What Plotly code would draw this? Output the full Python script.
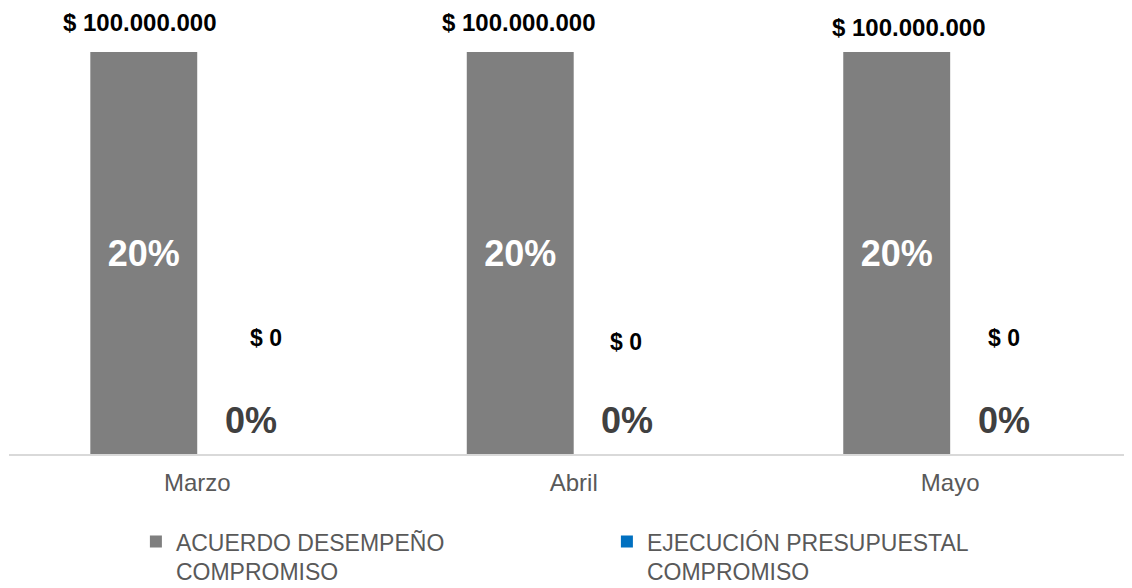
import plotly.graph_objects as go

categories = ["Marzo", "Abril", "Mayo"]
acuerdo_values = [100000000, 100000000, 100000000]
ejecucion_values = [0, 0, 0]
acuerdo_pct = [20, 20, 20]
ejecucion_pct = [0, 0, 0]
series_names = ["ACUERDO DESEMPEÑO<br>COMPROMISO", "EJECUCIÓN PRESUPUESTAL<br>COMPROMISO"]

GRAY = "#7f7f7f"
BLUE = "#0070c0"
FONT = "Arial, Liberation Sans, sans-serif"

# label placement tweaks (pixels), as in the original chart
top_label_dx = [-4, -2, 12]
top_label_dy = [30, 30, 25]
zero_label_dx = [15, -1, 0]
zero_label_dy = [116, 112, 116]

def money(v):
    return "$ " + f"{v:,.0f}".replace(",", ".")

BAR_W = 0.284

fig = go.Figure()
fig.add_trace(go.Bar(
    x=categories, y=acuerdo_values, name=series_names[0],
    marker=dict(color=GRAY, line=dict(width=0)),
    text=[f"{p}%" for p in acuerdo_pct], textposition="inside",
    insidetextanchor="middle", textangle=0,
    textfont=dict(family=FONT, size=36, color="white", weight="bold"),
    hoverinfo="skip",
))
fig.add_trace(go.Bar(
    x=categories, y=ejecucion_values, name=series_names[1],
    marker=dict(color=BLUE, line=dict(width=0)),
    hoverinfo="skip",
))

ann = []
for i, c in enumerate(categories):
    ann.append(dict(x=i - BAR_W / 2, y=acuerdo_values[i], xref="x", yref="y",
                    text=money(acuerdo_values[i]), showarrow=False,
                    yshift=top_label_dy[i], xshift=top_label_dx[i],
                    font=dict(family=FONT, size=24, color="black", weight="bold")))
    ann.append(dict(x=i + BAR_W / 2, y=ejecucion_values[i], xref="x", yref="y",
                    text=money(ejecucion_values[i]), showarrow=False,
                    yshift=zero_label_dy[i], xshift=zero_label_dx[i],
                    font=dict(family=FONT, size=23, color="black", weight="bold")))
    ann.append(dict(x=i + BAR_W / 2, y=ejecucion_values[i], xref="x", yref="y",
                    text=f"{ejecucion_pct[i]}%", showarrow=False,
                    yshift=34,
                    font=dict(family=FONT, size=36, color="#404040", weight="bold")))

fig.update_layout(
    width=1124, height=580,
    margin=dict(l=1, r=0, t=2, b=134, autoexpand=False),
    paper_bgcolor="white", plot_bgcolor="white",
    barmode="group", bargap=1 - 2 * BAR_W, bargroupgap=0,
    font=dict(family=FONT),
    annotations=ann,
    showlegend=True,
    legend=dict(orientation="h", x=0.113, xanchor="left", y=-0.149, yanchor="top",
                font=dict(family=FONT, size=23, color="#595959"),
                valign="top", entrywidth=426, entrywidthmode="pixels",
                itemclick=False, itemdoubleclick=False),
    xaxis=dict(type="category", range=[-0.5, 2.483], showgrid=False,
               showline=True, linecolor="#d9d9d9", linewidth=2,
               ticks="", ticklabelstandoff=6,
               tickfont=dict(family=FONT, size=24, color="#595959"),
               fixedrange=True),
    yaxis=dict(range=[0, 110450000], visible=False, showgrid=False, fixedrange=True),
)

fig.write_html("out.html", config={"displayModeBar": False})
